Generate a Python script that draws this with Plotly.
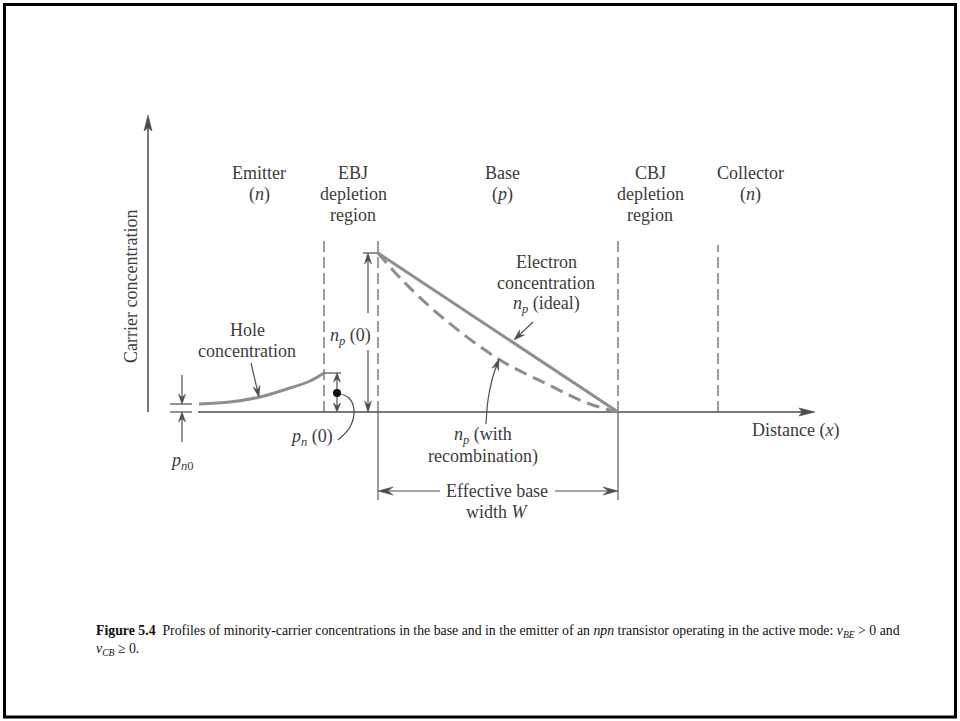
import numpy as np
import plotly.graph_objects as go

# ---------------- data (distance / concentration, arbitrary units) ----------------
# region boundaries along the distance axis
emitter_edge = 1.76      # emitter side of the EBJ depletion region
base_start = 2.30        # base side of the EBJ depletion region (x = 0)
base_end = 4.70          # base side of the CBJ depletion region (x = W)
collector_edge = 5.70    # collector side of the CBJ depletion region
boundary_x = [emitter_edge, base_start, base_end, collector_edge]
boundary_top = [1.74, 1.74, 1.74, 1.67]

# concentrations
np_0 = 1.59     # electron concentration at the base edge, np(0)
pn_0 = 0.39     # hole concentration at the emitter edge, pn(0)
pn0 = 0.08      # thermal-equilibrium hole concentration in the emitter

# hole profile in the emitter
hole_x = [0.51, 0.82, 1.12, 1.42, 1.62, 1.76]
hole_y = [0.08, 0.10, 0.15, 0.24, 0.31, 0.39]

# electron profile in the base, ideal (straight line)
ideal_x = [2.30, 4.70]
ideal_y = [1.59, 0.00]

# electron profile in the base with recombination
recomb_x = [2.30, 2.55, 2.95, 3.52, 3.99, 4.39, 4.70]
recomb_y = [1.59, 1.31, 0.94, 0.52, 0.28, 0.09, 0.00]

# axes extents
x_axis_start, x_axis_end = 0.50, 6.67
y_axis_end = 2.97

# ---------------- styling ----------------
PX = 100.0               # screen pixels per data unit (both axes)
INK = "#4d4d4d"
CURVE = "#8e8e8e"
TEXT = "#3c3c3c"
FONT = "Liberation Serif"
LINE_STEP = 0.21         # spacing between stacked label lines (data units)

fig = go.Figure()


def line(xs, ys, color=INK, width=1.3, dash=None, shape="linear"):
    fig.add_trace(go.Scatter(
        x=xs, y=ys, mode="lines",
        line=dict(color=color, width=width, dash=dash, shape=shape),
        hoverinfo="skip", showlegend=False))


def head(tx, ty, fx, fy, length=12, width=7, notch=0.3, color=INK):
    """Filled arrowhead with its tip at (tx, ty), pointing away from (fx, fy)."""
    dx, dy = tx - fx, ty - fy
    n = np.hypot(dx, dy)
    ux, uy = dx / n, dy / n
    px_, py_ = -uy, ux
    L = length / PX
    W = width / 2 / PX
    bx, by = tx - ux * L, ty - uy * L
    nx_, ny_ = tx - ux * L * (1 - notch), ty - uy * L * (1 - notch)
    xs = [tx, bx + px_ * W, nx_, bx - px_ * W, tx]
    ys = [ty, by + py_ * W, ny_, by - py_ * W, ty]
    fig.add_trace(go.Scatter(
        x=xs, y=ys, mode="lines", fill="toself", fillcolor=color,
        line=dict(color=color, width=0.6), hoverinfo="skip", showlegend=False))
    return nx_, ny_


def arrow(x0, y0, x1, y1, lw=1.3, **kw):
    nx_, ny_ = head(x1, y1, x0, y0, **kw)
    line([x0, nx_], [y0, ny_], width=lw)


def label(lines, x, y_first, size=18, **kw):
    """Stacked text lines centred on x, the first one centred on y_first."""
    for i, text in enumerate(lines):
        fig.add_annotation(x=x, y=y_first - i * LINE_STEP, xref="x", yref="y",
                           text=text, showarrow=False,
                           font=dict(family=FONT, size=size, color=TEXT), **kw)


# ---------------- axes ----------------
arrow(0, 0, 0, y_axis_end, lw=1.5, length=16, width=8, notch=0.2)
arrow(x_axis_start, 0, x_axis_end, 0, lw=1.5, length=16, width=8, notch=0.2)

# ---------------- junction boundaries ----------------
for bx, bt in zip(boundary_x, boundary_top):
    line([bx, bx], [0, bt], color=INK, width=1.1, dash="11px,5px")

# extensions marking the effective base width
ebw_y = -0.79
line([base_start, base_start], [0, -0.88], color=INK, width=1.1)
line([base_end, base_end], [0, -0.88], color=INK, width=1.1)
arrow(2.92, ebw_y, base_start, ebw_y, lw=1.2, length=15, width=8, notch=0.35)
arrow(4.07, ebw_y, base_end, ebw_y, lw=1.2, length=15, width=8, notch=0.35)

# ---------------- concentration profiles ----------------
line(hole_x, hole_y, color=CURVE, width=3, shape="spline")
line(ideal_x, ideal_y, color=CURVE, width=3)
line(recomb_x, recomb_y, color=CURVE, width=3, dash="13px,7px", shape="spline")

# ---------------- pn0 marker ----------------
line([0.22, 0.44], [pn0, pn0], width=1.2)
line([0.22, 0.44], [0, 0], width=1.2)
arrow(0.34, 0.37, 0.34, pn0, lw=1.2, length=10, width=7, notch=0.35)
arrow(0.34, -0.30, 0.34, 0, lw=1.2, length=10, width=7, notch=0.35)

# ---------------- pn(0) marker ----------------
line([emitter_edge, 1.93], [pn_0, pn_0], width=1.2)
arrow(1.89, 0.20, 1.89, pn_0, lw=1.2, length=9, width=7, notch=0.35)
arrow(1.89, 0.18, 1.89, 0, lw=1.2, length=9, width=7, notch=0.35)
line([1.89, 2.01, 2.06, 2.02, 1.90], [0.19, 0.14, 0.02, -0.15, -0.28],
     width=1.2, shape="spline")
fig.add_trace(go.Scatter(x=[1.89], y=[0.19], mode="markers",
                         marker=dict(color="#111111", size=8),
                         hoverinfo="skip", showlegend=False))

# ---------------- np(0) marker ----------------
line([2.15, base_start], [np_0, np_0], width=1.2)
arrow(2.20, 0.99, 2.20, np_0, lw=1.2, length=11, width=7, notch=0.35)
arrow(2.20, 0.62, 2.20, 0, lw=1.2, length=11, width=7, notch=0.35)

# ---------------- leaders ----------------
arrow(1.03, 0.49, 1.11, 0.15, lw=1.2, length=11, width=7, notch=0.35)
arrow(3.85, 0.90, 3.66, 0.72, lw=1.2, length=11, width=7, notch=0.35)
line([3.38, 3.40, 3.44, 3.47], [-0.12, 0.12, 0.32, 0.42], width=1.2, shape="spline")
arrow(3.47, 0.42, 3.51, 0.53, lw=1.2, length=11, width=7, notch=0.35)

# ---------------- text ----------------
label(["Emitter", "(<i>n</i>)"], 1.11, 2.39)
label(["EBJ", "depletion", "region"], 2.05, 2.39)
label(["Base", "(<i>p</i>)"], 3.54, 2.39)
label(["CBJ", "depletion", "region"], 5.02, 2.39)
label(["Collector", "(<i>n</i>)"], 6.02, 2.39)
label(["Hole", "concentration"], 0.99, 0.82)
label(["<i>n<sub>p</sub></i> (0)"], 2.02, 0.76)
label(["<i>p<sub>n</sub></i> (0)"], 1.63, -0.25)
label(["<i>p<sub>n</sub></i><sub>0</sub>"], 0.34, -0.49)
label(["Electron", "concentration", "<i>n<sub>p</sub></i> (ideal)"], 3.98, 1.50)
label(["<i>n<sub>p</sub></i> (with", "recombination)"], 3.35, -0.23)
label(["Effective base", "width <i>W</i>"], 3.49, -0.79)
label(["Distance (<i>x</i>)"], 6.47, -0.18)
label(["Carrier concentration"], -0.17, 1.25, textangle=-90)

fig.add_annotation(
    x=94 / 960, y=1 - 621 / 721, xref="paper", yref="paper",
    xanchor="left", yanchor="top", align="left", showarrow=False,
    text=("<b>Figure 5.4</b>&nbsp; Profiles of minority-carrier concentrations in the base "
          "and in the emitter of an <i>npn</i> transistor operating in the active mode: "
          "<i>v</i><sub><i>BE</i></sub> &gt; 0 and<br><i>v</i><sub><i>CB</i></sub> ≥ 0."),
    font=dict(family=FONT, size=13.8, color="#111111"))

# page frame
fig.add_shape(type="rect", xref="paper", yref="paper",
              x0=4.5 / 960, x1=955.5 / 960, y0=1 - 717 / 721, y1=1 - 4.5 / 721,
              line=dict(color="#000000", width=3))

fig.update_layout(
    width=960, height=721,
    margin=dict(l=0, r=0, t=0, b=0),
    paper_bgcolor="white", plot_bgcolor="white",
    xaxis=dict(range=[-1.48, 8.12], visible=False, fixedrange=True),
    yaxis=dict(range=[-3.09, 4.12], visible=False, fixedrange=True),
    showlegend=False,
)

fig.write_html("out.html")
